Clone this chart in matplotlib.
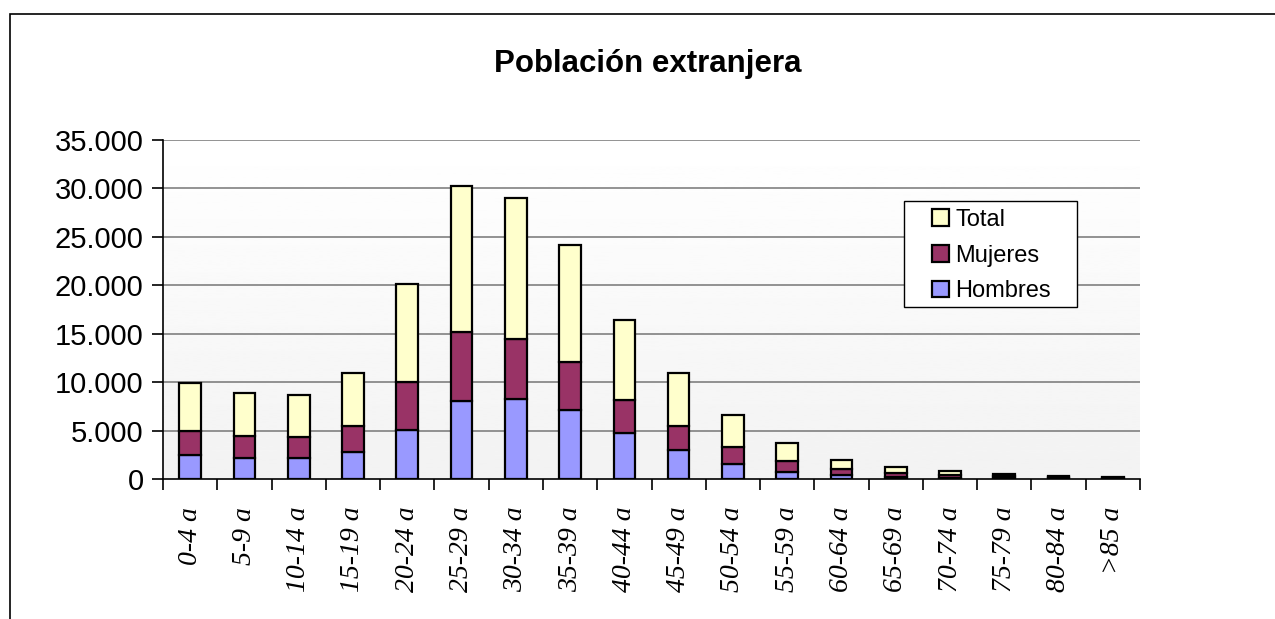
import matplotlib.pyplot as plt
import numpy as np
from matplotlib.patches import Rectangle

grupos = ["0-4 a", "5-9 a", "10-14 a", "15-19 a", "20-24 a", "25-29 a", "30-34 a",
          "35-39 a", "40-44 a", "45-49 a", "50-54 a", "55-59 a", "60-64 a",
          "65-69 a", "70-74 a", "75-79 a", "80-84 a", ">85 a"]
hombres = [2500, 2200, 2120, 2740, 5050, 8100, 8240, 7140, 4740, 3020, 1580, 720,
           370, 250, 150, 100, 60, 40]
mujeres = [2450, 2250, 2220, 2720, 5000, 7050, 6260, 4960, 3460, 2460, 1700, 1120,
           630, 360, 240, 170, 100, 80]
total = [h + m for h, m in zip(hombres, mujeres)]

c_hom = "#9999FF"
c_muj = "#993366"
c_tot = "#FFFFCC"

W, H = 1275, 619
fig = plt.figure(figsize=(W / 100, H / 100), dpi=100)
fig.patch.set_facecolor("white")

# outer chart border (left + top)
fig.add_artist(Rectangle((10 / W, -0.2), 2.0, 1 - 14 / H + 0.2, transform=fig.transFigure,
                         fill=False, edgecolor="black", linewidth=1.2))

ax = fig.add_axes([163 / W, 1 - 479 / H, (1140 - 163) / W, (479 - 140) / H])

x = np.arange(len(grupos))
ymax = 35000

# gradient background
grad = np.linspace(0.95, 1.0, 256).reshape(-1, 1)
ax.imshow(grad, extent=(-0.5, len(grupos) - 0.5, 0, ymax), origin="lower",
          cmap="gray", vmin=0, vmax=1, aspect="auto", zorder=0)

for v in range(5000, ymax + 1, 5000):
    ax.axhline(v, color="#808080", linewidth=1.2, zorder=1)

kw = dict(width=0.4, edgecolor="black", linewidth=1.6, zorder=3)
ax.bar(x, hombres, color=c_hom, label="Hombres", **kw)
ax.bar(x, mujeres, bottom=hombres, color=c_muj, label="Mujeres", **kw)
ax.bar(x, total, bottom=np.array(hombres) + np.array(mujeres), color=c_tot, label="Total", **kw)

ax.set_xlim(-0.5, len(grupos) - 0.5)
ax.set_ylim(0, ymax)

for s in ["top", "right"]:
    ax.spines[s].set_visible(False)
for s in ["left", "bottom"]:
    ax.spines[s].set_linewidth(1.2)
    ax.spines[s].set_zorder(5)

ax.set_yticks(range(0, ymax + 1, 5000))
ax.set_yticklabels([f"{v:,}".replace(",", ".") for v in range(0, ymax + 1, 5000)],
                   fontsize=21, family="Liberation Sans")
ax.tick_params(axis="y", length=8, width=1.2, pad=6)

ax.set_xticks(x)
ax.set_xticklabels(grupos, rotation=90, fontsize=20, family="Liberation Serif",
                   style="italic", va="top", ha="center")
ax.tick_params(axis="x", which="major", length=0, pad=20)
ax.set_xticks(np.arange(-0.5, len(grupos)), minor=True)
ax.tick_params(axis="x", which="minor", length=8, width=1.2)

fig.text(648 / W, 1 - 64 / H, "Población extranjera", ha="center", va="center",
         fontsize=22.5, fontweight="bold", family="Liberation Sans")

# legend box drawn separately (wide padding like the original)
fig.add_artist(Rectangle((904 / W, 1 - 307 / H), (1077 - 904) / W, (307 - 201) / H,
                         transform=fig.transFigure, facecolor="white",
                         edgecolor="black", linewidth=1.0, zorder=6))
handles, labels = ax.get_legend_handles_labels()
leg = fig.legend(handles[::-1], labels[::-1], loc="upper left",
                 bbox_to_anchor=(932 / W, 1 - 209 / H),
                 prop={"family": "Liberation Sans", "size": 17}, frameon=False,
                 handlelength=0.7, handleheight=0.7, handletextpad=0.3,
                 borderpad=0, labelspacing=0.58, borderaxespad=0)
leg.set_zorder(7)

fig.savefig("out.png", dpi=100)
